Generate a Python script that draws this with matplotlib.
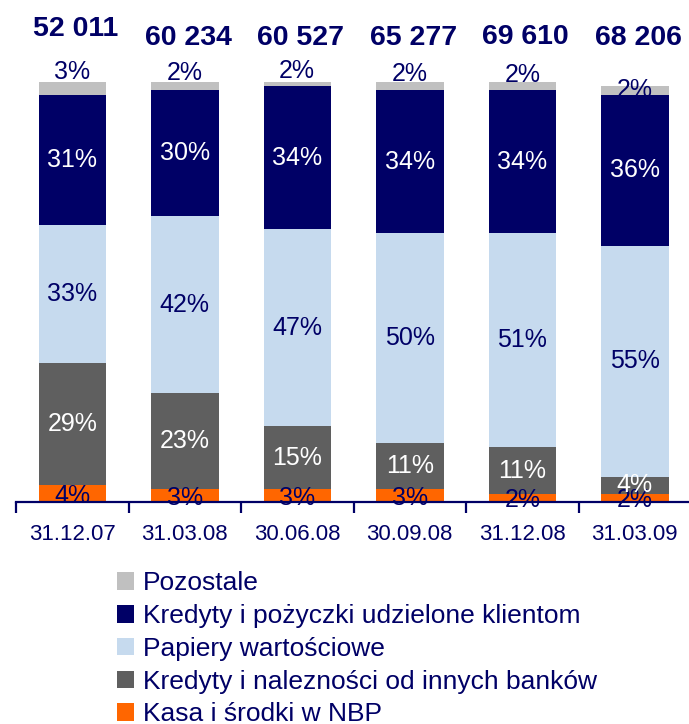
import numpy as np
import matplotlib
matplotlib.use("Agg")
import matplotlib.pyplot as plt

plt.rcParams['font.family'] = ['Liberation Sans', 'DejaVu Sans']

# Data
dates = ["31.12.07", "31.03.08", "30.06.08", "30.09.08", "31.12.08", "31.03.09"]
totals = ["52 011", "60 234", "60 527", "65 277", "69 610", "68 206"]
kasa_nbp = [4, 3, 3, 3, 2, 2]
kredyty_banki = [29, 23, 15, 11, 11, 4]
papiery = [33, 42, 47, 50, 51, 55]
kredyty_klienci = [31, 30, 34, 34, 34, 36]
pozostale = [3, 2, 2, 2, 2, 2]

series_names = ["Kasa i środki w NBP",
                "Kredyty i nalezności od innych banków",
                "Papiery wartościowe",
                "Kredyty i pożyczki udzielone klientom",
                "Pozostale"]
series_values = [kasa_nbp, kredyty_banki, papiery, kredyty_klienci, pozostale]
colors = ["#FF6600", "#5F5F5F", "#C6DAEE", "#000066", "#C0C0C0"]
label_colors = ["#000066", "white", "#000066", "white", "#000066"]

navy = "#000066"

# label placement tweaks for the top segment (data units)
top_label_shift = [3.8, 3.2, 2.6, 2.9, 2.7, 0.0]
total_label_y = [112.6, 110.5, 110.5, 110.5, 110.7, 110.5]

fig = plt.figure(figsize=(6.89, 7.24), dpi=100)
ax = fig.add_axes([16 / 689, (724 - 502) / 724, 675 / 689, 420 / 724])

x = np.arange(len(dates))
width = 0.6
bottom = np.zeros(len(dates))
for vals, col, lcol, name in zip(series_values, colors, label_colors, series_names):
    vals = np.array(vals, dtype=float)
    ax.bar(x, vals, width, bottom=bottom, color=col, label=name, zorder=2)
    for i, v in enumerate(vals):
        yc = bottom[i] + v / 2
        if name == "Pozostale":
            yc += top_label_shift[i]
        elif name == "Kasa i środki w NBP":
            yc -= 0.6
        ax.text(x[i], yc, f"{int(v)}%", ha="center", va="center",
                color=lcol, fontsize=18, zorder=3, clip_on=False)
    bottom += vals

for i, t in enumerate(totals):
    ax.text(x[i] + 0.03, total_label_y[i], t, ha="center", va="center",
            color=navy, fontsize=20.5, fontweight="bold", clip_on=False)

ax.set_xlim(-0.5, len(dates) - 0.5)
ax.set_ylim(0, 100)
for s in ["top", "right", "left"]:
    ax.spines[s].set_visible(False)
ax.spines["bottom"].set_color(navy)
ax.spines["bottom"].set_linewidth(1.6)
ax.set_yticks([])

ax.set_xticks(np.arange(-0.5, len(dates), 1.0))
ax.set_xticklabels([])
ax.tick_params(axis="x", which="major", length=8, width=1.6, color=navy, direction="out")
ax.set_xticks(x, minor=True)
ax.set_xticklabels(dates, minor=True)
ax.tick_params(axis="x", which="minor", length=0, pad=16, labelsize=16, labelcolor=navy)

# Legend, listed from top segment to bottom
handles, labels = ax.get_legend_handles_labels()
leg = fig.legend(handles[::-1], labels[::-1], loc="upper left",
                 bbox_to_anchor=(99 / 689, 1 - 553 / 724),
                 frameon=False, fontsize=19, labelcolor=navy,
                 handlelength=0.64, handleheight=0.64, handletextpad=0.32,
                 labelspacing=0.33, borderpad=0.2)

fig.savefig("out.png", dpi=100)
